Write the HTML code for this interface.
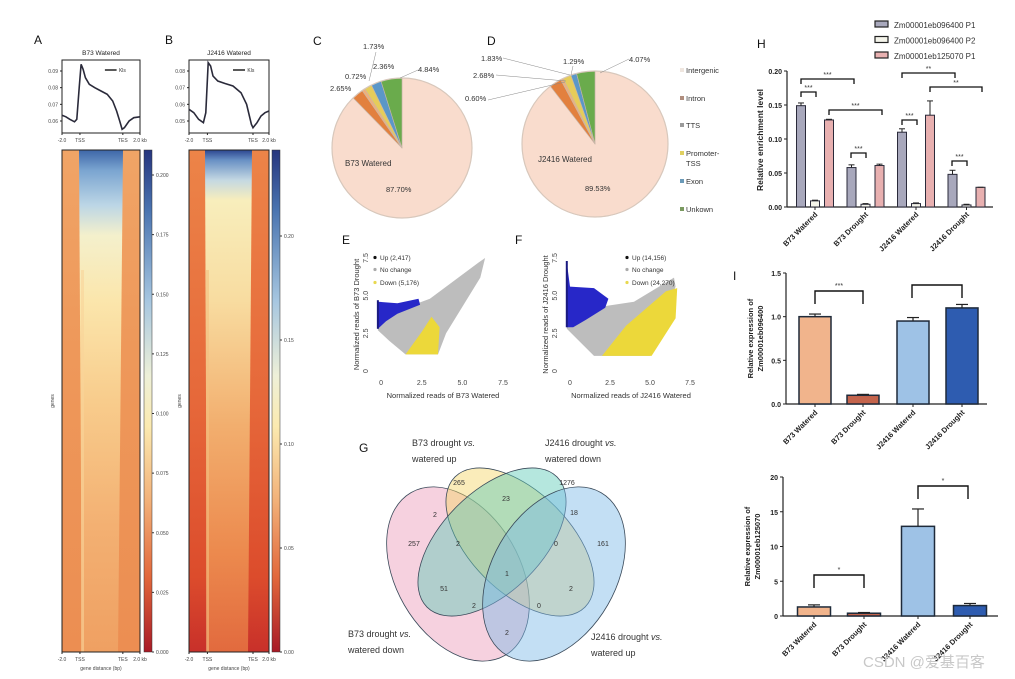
<!DOCTYPE html>
<html><head><meta charset="utf-8">
<style>
html,body{margin:0;padding:0;background:#fff;}
svg{display:block;font-family:"Liberation Sans","Noto Sans CJK SC",sans-serif;}
</style></head>
<body>
<svg id="fig" width="1015" height="679" viewBox="0 0 1015 679" xmlns="http://www.w3.org/2000/svg">
<defs>
<linearGradient id="cbar" x1="0" y1="0" x2="0" y2="1">
<stop offset="0" stop-color="#26357e"/><stop offset="0.12" stop-color="#4a74b0"/><stop offset="0.3" stop-color="#a6c6e0"/><stop offset="0.45" stop-color="#eef0d8"/><stop offset="0.55" stop-color="#fbeab0"/><stop offset="0.7" stop-color="#f2b078"/><stop offset="0.85" stop-color="#e2683c"/><stop offset="1" stop-color="#a81a26"/>
</linearGradient>
<linearGradient id="hmA" x1="0" y1="0" x2="0" y2="1">
<stop offset="0" stop-color="#f0a466"/><stop offset="0.4" stop-color="#ee985a"/><stop offset="1" stop-color="#ec8e52"/>
</linearGradient>
<linearGradient id="hmAc" x1="0" y1="0" x2="0" y2="1">
<stop offset="0" stop-color="#3e66a8"/><stop offset="0.04" stop-color="#7aa4d0"/><stop offset="0.11" stop-color="#bcd6e6"/><stop offset="0.17" stop-color="#f4f0cc"/><stop offset="0.3" stop-color="#fbe6ac"/><stop offset="0.5" stop-color="#f8cc8c"/><stop offset="0.75" stop-color="#f3b072"/><stop offset="1" stop-color="#efa062"/>
</linearGradient>
<linearGradient id="hmB" x1="0" y1="0" x2="0" y2="1">
<stop offset="0" stop-color="#ec8448"/><stop offset="0.5" stop-color="#e6683a"/><stop offset="0.85" stop-color="#dc4c2c"/><stop offset="1" stop-color="#c8302a"/>
</linearGradient>
<linearGradient id="hmBc" x1="0" y1="0" x2="0" y2="1">
<stop offset="0" stop-color="#2c4690"/><stop offset="0.02" stop-color="#6890c4"/><stop offset="0.06" stop-color="#c4d8e2"/><stop offset="0.1" stop-color="#f8eebc"/><stop offset="0.3" stop-color="#f8dca0"/><stop offset="0.55" stop-color="#f2ae6e"/><stop offset="0.8" stop-color="#ec8a4e"/><stop offset="1" stop-color="#e26a3e"/>
</linearGradient>
</defs>
<g id="root"></g>
</svg>
<script>
// ---- Profile data (A, B): fractional position across -2.0..2.0 kb, signal ----
var profAx = [0,0.05,0.1,0.16,0.19,0.22,0.245,0.27,0.3,0.35,0.42,0.5,0.58,0.65,0.7,0.74,0.77,0.8,0.86,0.92,1];
var profAy = [0.0635,0.0625,0.061,0.0595,0.061,0.08,0.094,0.091,0.086,0.082,0.080,0.078,0.076,0.072,0.066,0.060,0.055,0.056,0.060,0.062,0.0625];
var profBx = [0,0.06,0.12,0.18,0.21,0.24,0.27,0.3,0.36,0.45,0.55,0.65,0.72,0.78,0.8,0.85,0.9,0.95,1];
var profBy = [0.057,0.055,0.051,0.049,0.055,0.085,0.083,0.077,0.074,0.0725,0.071,0.067,0.06,0.048,0.046,0.049,0.053,0.055,0.056];
var profAticks = [0.09,0.08,0.07,0.06];
var profBticks = [0.08,0.07,0.06,0.05];
var cbarAticks = ["0.200","0.175","0.150","0.125","0.100","0.075","0.050","0.025","0.000"];
var cbarAvals = [0.2,0.175,0.15,0.125,0.1,0.075,0.05,0.025,0];
var cbarBticks = ["0.20","0.15","0.10","0.05","0.00"];
var cbarBvals = [0.2,0.15,0.1,0.05,0];
// ---- Pie data ----
var pieCats = ["Intergenic","Intron","TTS","Promoter-TSS","Exon","Unkown"];
var pieC = [87.70,2.65,0.72,1.73,2.36,4.84];
var pieD = [89.53,2.68,0.60,1.83,1.29,4.07];
// ---- H chart ----
var hGroups = ["B73 Watered","B73 Drought","J2416 Watered","J2416 Drought"];
var hSeries = ["Zm00001eb096400 P1","Zm00001eb096400 P2","Zm00001eb125070 P1"];
var hP1 = [0.149,0.058,0.110,0.048];
var hP1err = [0.004,0.004,0.005,0.006];
var hP2 = [0.009,0.004,0.005,0.003];
var hP2err = [0.001,0.001,0.001,0.001];
var hQ1 = [0.128,0.061,0.135,0.029];
var hQ1err = [0.001,0.002,0.021,0.0];
var hTicks = [0,0.05,0.10,0.15,0.20];
// ---- I charts ----
var iCats = ["B73 Watered","B73 Drought","J2416 Watered","J2416 Drought"];
var i1Vals = [1.0,0.1,0.95,1.1];
var i1Err = [0.03,0.01,0.04,0.04];
var i1Ticks = [0,0.5,1.0,1.5];
var i2Vals = [1.3,0.4,12.9,1.5];
var i2Err = [0.3,0.1,2.5,0.3];
var i2Ticks = [0,5,10,15,20];
// ---- Scatter cloud outlines (data units) ----
var eGrayX=[-0.2,1,3,6,6.4,6.1,4,3.5,1.5,0.5,-0.2], eGrayY=[4.5,4.0,4.8,7.2,7.5,6.2,2.5,1.1,1.1,2.0,2.7];
var eBlueX=[-0.2,1,2.3,2.4,1,0.3,-0.2], eBlueY=[4.6,4.5,4.8,4.4,3.8,3.3,2.8];
var eYelX=[1.5,3.5,3.6,3.1,2.5], eYelY=[1.1,1.1,2.9,3.6,2.6];
var fGrayX=[-0.2,1.5,4,6.5,6.6,6.2,5,1.5,-0.2], fGrayY=[5.5,4.2,4.6,6.2,5.6,4.5,1.0,1.0,2.8];
var fBlueX=[-0.2,0,1.5,2.4,2.2,1,0.2,-0.2], fBlueY=[7.2,5.6,5.5,4.8,4.2,3.4,2.9,2.9];
var fYelX=[2.0,5.1,6.6,6.7,6.0,3.5], fYelY=[1.0,1.0,3.5,5.5,5.3,3.0];

var NS="http://www.w3.org/2000/svg";
var root=document.getElementById('root');
function mk(tag,attrs,parent,txt){var e=document.createElementNS(NS,tag);for(var k in attrs)e.setAttribute(k,attrs[k]);if(txt!==undefined)e.textContent=txt;(parent||root).appendChild(e);return e;}
function txt(x,y,s,size,opts,parent){var a={x:x,y:y,'font-size':size,fill:'#222'};if(opts)for(var k in opts)a[k]=opts[k];return mk('text',a,parent,s);}

// ===== Panel labels =====
[["A",34,44],["B",165,44],["C",313,45],["D",487,45],["E",342,244],["F",515,244],["G",359,452],["H",757,48],["I",733,280]].forEach(function(p){
 var t=txt(p[1],p[2],p[0],12,{fill:'#111'});
 
 
});

// ===== Profiles =====
function profile(name,x0,x1,y0,y1,xs,ys,ticks,tickTop,tickBot,vTop,vBot,title,tss,tes){
 var g=mk('g',{});
 
 
 function sx(f){return x0+f*(x1-x0);}
 function sy(v){return tickTop+(vTop-v)/(vTop-vBot)*(tickBot-tickTop);}
 mk('rect',{x:x0,y:y0,width:x1-x0,height:y1-y0,fill:'none',stroke:'#222','stroke-width':1},g);
 var d='';for(var i=0;i<xs.length;i++){d+=(i?'L':'M')+sx(xs[i]).toFixed(1)+','+sy(ys[i]).toFixed(1);}
 var p=mk('path',{d:d,fill:'none',stroke:'#2a2a3a','stroke-width':1.6},g);
 
 
 ticks.forEach(function(v){var y=sy(v);mk('line',{x1:x0-2,x2:x0,y1:y,y2:y,stroke:'#222'},g);txt(x0-4,y+2,v.toFixed(2),5,{'text-anchor':'end',fill:'#444'},g);});
 [[0,"-2.0"],[tss,"TSS"],[tes,"TES"],[1,"2.0 kb"]].forEach(function(t){var x=sx(t[0]);mk('line',{x1:x,x2:x,y1:y1,y2:y1+2,stroke:'#222'},g);txt(x,y1+9,t[1],5,{'text-anchor':'middle',fill:'#444'},g);});
 txt((x0+x1)/2,y0-5,title,6.5,{'text-anchor':'middle',fill:'#222'},g);
 mk('line',{x1:x0+(x1-x0)*0.55,x2:x0+(x1-x0)*0.7,y1:y0+10,y2:y0+10,stroke:'#222','stroke-width':1.5},g);
 txt(x0+(x1-x0)*0.73,y0+12,"Kls",5,{fill:'#333'},g);
}
profile('profile-a',62,140,60,133,profAx,profAy,profAticks,71,121,0.09,0.06,"B73 Watered",0.23,0.78);
profile('profile-b',189,269,60,133,profBx,profBy,profBticks,71,121,0.08,0.05,"J2416 Watered",0.23,0.8);

// ===== Heatmaps =====
function heatmap(name,x0,x1,y0,y1,base,center,tssF,tesF,cl,cr,bl,br,stripe){
 var g=mk('g',{});
 
 
 mk('rect',{x:x0,y:y0,width:x1-x0,height:y1-y0,fill:'url(#'+base+')'},g);
 var w=x1-x0;
 mk('polygon',{points:cl+','+y0+' '+cr+','+y0+' '+br+','+y1+' '+bl+','+y1,fill:'url(#'+center+')'},g);
 mk('rect',{x:bl-1,y:y0+120,width:3,height:y1-y0-120,fill:stripe,opacity:0.6},g);
 mk('rect',{x:x0,y:y0,width:w,height:y1-y0,fill:'none',stroke:'#222','stroke-width':1},g);
 [[0,"-2.0"],[tssF,"TSS"],[tesF,"TES"],[1,"2.0 kb"]].forEach(function(t){var x=x0+t[0]*w;mk('line',{x1:x,x2:x,y1:y1,y2:y1+2,stroke:'#222'},g);txt(x,y1+9,t[1],5,{'text-anchor':'middle',fill:'#444'},g);});
 txt((x0+x1)/2,y1+18,"gene distance (bp)",5,{'text-anchor':'middle',fill:'#444'},g);
 txt(0,0,"genes",5,{'text-anchor':'middle',fill:'#444',transform:'translate('+(x0-8)+','+((y0+y1)/2)+') rotate(-90)'},g);
}
heatmap('heatmap-a',62,140,150,652,'hmA','hmAc',0.23,0.78,79,123,82,118,'#f8d49a');
heatmap('heatmap-b',189,269,150,652,'hmB','hmBc',0.23,0.8,205,252,207,248,'#f4c080');

function cbar(name,x,y0,y1,labels,vals,vmax,top){
 var g=mk('g',{});
 
 
 mk('rect',{x:x,y:y0,width:8,height:y1-y0,fill:'url(#cbar)',stroke:'#333','stroke-width':0.5},g);
 labels.forEach(function(l,i){var y=y1-(vals[i]/vmax)*(y1-top);mk('line',{x1:x+8,x2:x+10,y1:y,y2:y,stroke:'#333'},g);txt(x+12,y+2,l,5,{fill:'#444'},g);});
}
cbar('colorbar-a',144,150,652,cbarAticks,cbarAvals,0.2,175);
cbar('colorbar-b',272,150,652,cbarBticks,cbarBvals,0.2,236);

// ===== Pies =====
var pieColors=["#f9dccd","#e2803e","#f0b07a","#e6cc5a","#5b97c8","#6aab4c"];
function pie(name,cx,cy,r,vals,title,pct){
 var g=mk('g',{});
 
 
 var tot=vals.reduce(function(a,b){return a+b;},0),a=-Math.PI/2;
 vals.forEach(function(v,i){
  var a2=a+v/tot*2*Math.PI,large=(a2-a)>Math.PI?1:0;
  var d='M'+cx+','+cy+'L'+(cx+r*Math.cos(a))+','+(cy+r*Math.sin(a))+'A'+r+','+r+' 0 '+large+' 1 '+(cx+r*Math.cos(a2))+','+(cy+r*Math.sin(a2))+'Z';
  var s=mk('path',{d:d,fill:pieColors[i],stroke:'#c9b6a8','stroke-width':0.6},g);
  
  
  a=a2;
 });
 mk('circle',{cx:cx,cy:cy,r:r,fill:'none',stroke:'#d8c8bc','stroke-width':1.2},g);
 txt(cx-57,cy+18,title,8,{fill:'#333'},g);
 pct.forEach(function(p){txt(p[0],p[1],p[2],7.5,{fill:'#333'},g);if(p[3])mk('polyline',{points:p[3],fill:'none',stroke:'#888','stroke-width':0.5},g);});
}
pie('pie-b73-watered',402,148,70,pieC,"B73 Watered",[
 [330,91,"2.65%"],[345,79,"0.72%"],[363,49,"1.73%",'376,52 369,81'],[373,69,"2.36%"],[418,72,"4.84%",'418,70 400,78'],[386,192,"87.70%"]]);
pie('pie-j2416-watered',595,144,73,pieD,"J2416 Watered",[
 [481,61,"1.83%",'503,58 570,75'],[473,78,"2.68%",'496,75 566,81'],[465,101,"0.60%",'488,100 565,82'],[563,64,"1.29%",'573,66 571,75'],[629,62,"4.07%",'629,59 600,73'],[585,191,"89.53%"]]);

// pie legend
pieCats.forEach(function(c,i){
 var y=[73,101,128,156,184,212][i];
 var g=mk('g',{});
 
 
 mk('rect',{x:680,y:y-5,width:4,height:4,fill:i===0?'#efe6df':['','#b08e7e','#9a9a9a','#e0d060','#6a9ab8','#7a9a60'][i]},g);
 if(c==="Promoter-TSS"){txt(686,y,"Promoter-",7.5,{fill:'#333'},g);txt(686,y+10,"TSS",7.5,{fill:'#333'},g);}
 else txt(686,y,c,7.5,{fill:'#333'},g);
});

// ===== Scatter E/F =====
function scatter(name,x0,x1,y0,y1,gx,gy,bx,by,yx,yy,xlab,ylab,legs){
 var g=mk('g',{});
 
 
 function sx(v){return x0+(v+0.5)/8*(x1-x0);}
 function sy(v){return y1-(v+0.2)/7.9*(y1-y0);}
 function poly(X,Y,col,nm){var pts=X.map(function(v,i){return sx(v).toFixed(1)+','+sy(Y[i]).toFixed(1);}).join(' ');var p=mk('polygon',{points:pts,fill:col},g);}
 poly(gx,gy,'#bdbdbd','no-change-points');
 poly(bx,by,'#2727c8','up-points');
 poly(yx,yy,'#ecd83a','down-points');
 mk('line',{x1:sx(-0.2),x2:sx(-0.2),y1:sy(bx===eBlueX?2.8:2.9),y2:sy(bx===eBlueX?4.7:7.3),stroke:'#1a1a80','stroke-width':2},g);
 [0,2.5,5.0,7.5].forEach(function(v,i){txt(sx(v),y1+11,["0","2.5","5.0","7.5"][i],7,{'text-anchor':'middle',fill:'#444'},g);
  txt(0,0,["0","2.5","5.0","7.5"][i],7,{'text-anchor':'middle',fill:'#444',transform:'translate('+(x0-5)+','+sy(v)+') rotate(-90)'},g);});
 txt((x0+x1)/2+5,y1+24,xlab,7.5,{'text-anchor':'middle',fill:'#333'},g);
 txt(0,0,ylab,7.5,{'text-anchor':'middle',fill:'#333',transform:'translate('+(x0-14)+','+((y0+y1)/2)+') rotate(-90)'},g);
 legs.forEach(function(l,i){mk('circle',{cx:l[0],cy:l[1]-2.5,r:1.6,fill:l[3]},g);txt(l[0]+5,l[1],l[2],6.5,{fill:'#333'},g);});
}
scatter('scatter-e',373,503,255,374,eGrayX,eGrayY,eBlueX,eBlueY,eYelX,eYelY,"Normalized reads of B73 Watered","Normalized reads of B73 Drought",
 [[375,260,"Up (2,417)","#111"],[375,272,"No change","#aaa"],[375,285,"Down (5,176)","#e8d850"]]);
scatter('scatter-f',562,690,255,374,fGrayX,fGrayY,fBlueX,fBlueY,fYelX,fYelY,"Normalized reads of J2416 Watered","Normalized reads of J2416 Drought",
 [[627,260,"Up  (14,156)","#111"],[627,272,"No change","#aaa"],[627,285,"Down  (24,270)","#e8d850"]]);

// ===== Venn G =====
(function(){
 var g=mk('g',{});
 
 
 var ells=[['venn-b73-down',458,574,94,62,60,'#eb9ab8'],['venn-b73-up',520,542,92,50,45,'#f3d466'],['venn-j2416-down',492,542,92,50,-45,'#5cc9b5'],['venn-j2416-up',554,574,94,62,-60,'#7ab8e6']];
 ells.forEach(function(e){var el=mk('ellipse',{cx:e[1],cy:e[2],rx:e[3],ry:e[4],transform:'rotate('+e[5]+' '+e[1]+' '+e[2]+')',fill:e[6],'fill-opacity':0.45,stroke:'#3a4a5a','stroke-width':0.8},g);});
 [["265",459,485],["1276",567,485],["23",506,501],["2",435,517],["18",574,515],["257",414,546],["2",458,546],["0",556,546],["161",603,546],["1",507,576],["51",444,591],["2",571,591],["2",474,608],["0",539,608],["2",507,635]].forEach(function(n){txt(n[1],n[2],n[0],7,{'text-anchor':'middle',fill:'#333'},g);});
 txt(412,446,"",9,{fill:'#333'},g).innerHTML='B73 drought <tspan font-style="italic">vs.</tspan>';
 txt(412,462,"watered up",9,{fill:'#333'},g);
 txt(545,446,"",9,{fill:'#333'},g).innerHTML='J2416 drought <tspan font-style="italic">vs.</tspan>';
 txt(545,462,"watered down",9,{fill:'#333'},g);
 txt(348,637,"",9,{fill:'#333'},g).innerHTML='B73 drought <tspan font-style="italic">vs.</tspan>';
 txt(348,653,"watered down",9,{fill:'#333'},g);
 txt(591,640,"",9,{fill:'#333'},g).innerHTML='J2416 drought <tspan font-style="italic">vs.</tspan>';
 txt(591,656,"watered up",9,{fill:'#333'},g);
})();

// ===== H chart =====
(function(){
 var g=mk('g',{});
 
 
 var X0=787,X1=993,Y0=207,Y20=71;
 function y(v){return Y0-v/0.2*(Y0-Y20);}
 function gx(i){return 815+i*50.5;}
 mk('line',{x1:X0,x2:X0,y1:Y20,y2:Y0,stroke:'#222','stroke-width':1.2},g);
 mk('line',{x1:X0,x2:X1,y1:Y0,y2:Y0,stroke:'#222','stroke-width':1.2},g);
 hTicks.forEach(function(v){mk('line',{x1:X0-3,x2:X0,y1:y(v),y2:y(v),stroke:'#222'},g);txt(X0-5,y(v)+3,v.toFixed(2),7,{'text-anchor':'end','font-weight':'bold',fill:'#222'},g);});
 txt(0,0,"Relative enrichment level",8.5,{'text-anchor':'middle','font-weight':'bold',fill:'#222',transform:'translate(763,140) rotate(-90)'},g);
 var sers=[[hP1,hP1err,'#a8a8bc',-14],[hP2,hP2err,'#f4f4ea',0],[hQ1,hQ1err,'#e8b0b0',14]];
 sers.forEach(function(s,si){
  s[0].forEach(function(v,i){
   var cx=gx(i)+s[3];
   var r=mk('rect',{x:cx-4.5,y:y(v),width:9,height:Y0-y(v),fill:s[2],stroke:'#2a2a3a','stroke-width':1},g);
   
   
   var e=y(v+s[1][i]);mk('line',{x1:cx,x2:cx,y1:e,y2:y(v),stroke:'#222'},g);mk('line',{x1:cx-3,x2:cx+3,y1:e,y2:e,stroke:'#222'},g);
  });
 });
 hGroups.forEach(function(c,i){mk('line',{x1:gx(i),x2:gx(i),y1:Y0,y2:Y0+3,stroke:'#222'},g);txt(0,0,c,7.5,{'text-anchor':'end','font-weight':'bold',fill:'#222',transform:'translate('+(gx(i)+3)+','+(Y0+8)+') rotate(-45)'},g);});
 function br(xa,xb,yt,st){mk('polyline',{points:xa+','+(yt+5)+' '+xa+','+yt+' '+xb+','+yt+' '+xb+','+(yt+5),fill:'none',stroke:'#111','stroke-width':1.3},g);txt((xa+xb)/2,yt-2,st,7,{'text-anchor':'middle',fill:'#333'},g);}
 br(801,854,79,"***");br(801,816,92,"***");br(829,882,110,"***");br(851,866,153,"***");
 br(902,955,73,"**");br(930,982,87,"**");br(902,917,120,"***");br(952,967,161,"***");
 hSeries.forEach(function(s,i){var lg=mk('g',{},g);
  mk('rect',{x:875,y:21+i*15.5,width:13,height:6,fill:sers[i][2],stroke:'#222','stroke-width':1.2},lg);txt(894,28+i*15.5,s,8,{fill:'#333'},lg);});
})();

// ===== I charts =====
function ichart(name,X0,X1,Yb,Yt,vmax,ticks,vals,errs,cx,bw,ylab1,ylab2,brs,tickFmt){
 var g=mk('g',{});
 
 
 function y(v){return Yb-v/vmax*(Yb-Yt);}
 var cols=['#f1b48c','#c4644c','#9ec2e6','#2e5cb0'];
 mk('line',{x1:X0,x2:X0,y1:Yt,y2:Yb,stroke:'#222','stroke-width':1.2},g);
 mk('line',{x1:X0,x2:X1,y1:Yb,y2:Yb,stroke:'#222','stroke-width':1.2},g);
 ticks.forEach(function(v){mk('line',{x1:X0-3,x2:X0,y1:y(v),y2:y(v),stroke:'#222'},g);txt(X0-5,y(v)+3,tickFmt(v),7,{'text-anchor':'end','font-weight':'bold',fill:'#222'},g);});
 vals.forEach(function(v,i){
  var r=mk('rect',{x:cx[i]-bw/2,y:y(v),width:bw,height:Yb-y(v),fill:cols[i],stroke:'#1e2a3a','stroke-width':1.5},g);
  
  
  var e=y(v+errs[i]);mk('line',{x1:cx[i],x2:cx[i],y1:e,y2:y(v),stroke:'#222','stroke-width':1.2},g);mk('line',{x1:cx[i]-6,x2:cx[i]+6,y1:e,y2:e,stroke:'#222','stroke-width':1.2},g);
  mk('line',{x1:cx[i],x2:cx[i],y1:Yb,y2:Yb+3,stroke:'#222'},g);
  txt(0,0,iCats[i],7.5,{'text-anchor':'end','font-weight':'bold',fill:'#222',transform:'translate('+(cx[i]+3)+','+(Yb+9)+') rotate(-45)'},g);
 });
 txt(0,0,ylab1,7.5,{'text-anchor':'middle','font-weight':'bold',fill:'#222',transform:'translate('+(X0-33)+','+((Yb+Yt)/2)+') rotate(-90)'},g);
 txt(0,0,ylab2,7.5,{'text-anchor':'middle','font-weight':'bold',fill:'#222',transform:'translate('+(X0-23)+','+((Yb+Yt)/2)+') rotate(-90)'},g);
 brs.forEach(function(b){mk('polyline',{points:b[0]+','+(b[2]+13)+' '+b[0]+','+b[2]+' '+b[1]+','+b[2]+' '+b[1]+','+(b[2]+13),fill:'none',stroke:'#111','stroke-width':1.4},g);txt((b[0]+b[1])/2,b[2]-3,b[3],7,{'text-anchor':'middle',fill:'#333'},g);});
}
ichart('chart-i-096400',786,987,404,273,1.5,i1Ticks,i1Vals,i1Err,[815,863,913,962],32,"Relative expression of","Zm00001eb096400",[[815,863,291,"***"],[912,962,285,""]],function(v){return v.toFixed(1);});
ichart('chart-i-125070',783,998,616,477,20,i2Ticks,i2Vals,i2Err,[814,864,918,970],33,"Relative expression of","Zm00001eb125070",[[814,864,575,"*"],[918,968,486,"*"]],function(v){return String(v);});

// watermark
var wm=txt(863,667,"CSDN @爱基百客",15,{fill:'#c8c8c8'});


</script>
</body></html>
